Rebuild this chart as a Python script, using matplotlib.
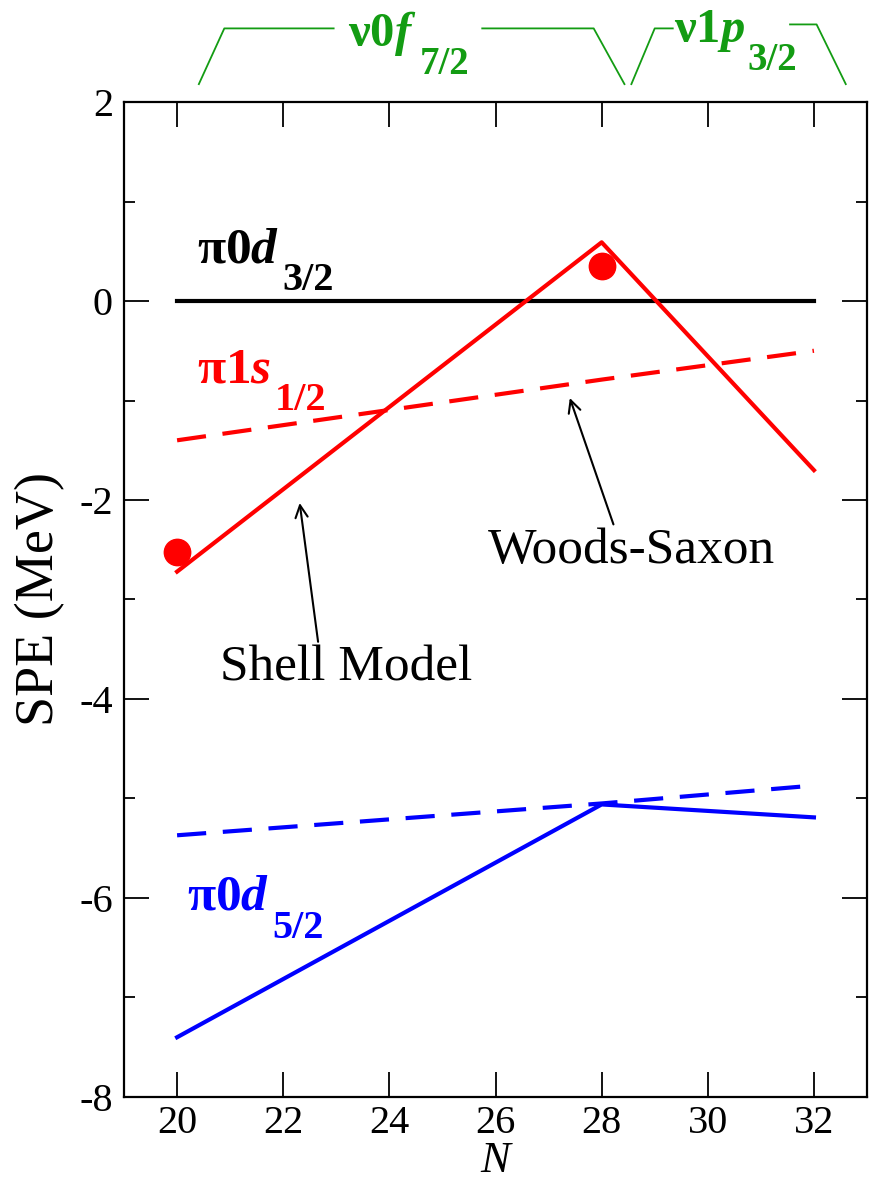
import matplotlib
matplotlib.use('Agg')
import matplotlib.pyplot as plt

# Данные: число нейтронов N и одночастичные энергии протонов (МэВ)
N = [20, 28, 32]

d32_shell = [0.0, 0.0, 0.0]
s12_shell = [-2.72, 0.59, -1.70]
s12_ws = [-1.40, -0.79, -0.50]
d52_shell = [-7.40, -5.06, -5.19]
d52_ws = [-5.37, -5.05, -4.87]

# Экспериментальные точки для pi 1s1/2
exp_N = [20, 28]
exp_s12 = [-2.52, 0.35]

# Подписи уровней нейтронов над графиком
nu_labels = [r'$\mathbf{\nu0}\mathbfit{f}$', r'$\mathbf{\nu1}\mathbfit{p}$']
nu_subs = ['7/2', '3/2']

plt.rcParams['font.family'] = 'serif'
plt.rcParams['font.serif'] = ['Liberation Serif', 'DejaVu Serif']
plt.rcParams['axes.unicode_minus'] = False
plt.rcParams['mathtext.fontset'] = 'custom'
plt.rcParams['mathtext.rm'] = 'Liberation Serif'
plt.rcParams['mathtext.bf'] = 'Liberation Serif:bold'
plt.rcParams['mathtext.bfit'] = 'Liberation Serif:bold:italic'
plt.rcParams['mathtext.it'] = 'Liberation Serif:italic'

fig = plt.figure(figsize=(8.77, 11.85), dpi=100)
ax = fig.add_axes([0.1414, 0.0743, 0.8472, 0.8396])

lw = 3.0
dash = (7, 4)
ax.plot(N, d32_shell, color='black', lw=lw)
ax.plot(N, s12_shell, color='red', lw=lw)
ax.plot(N, s12_ws, color='red', lw=lw, ls=(0, dash))
ax.plot(N, d52_shell, color='blue', lw=lw)
ax.plot(N, d52_ws, color='blue', lw=lw, ls=(0, dash))
ax.plot(exp_N, exp_s12, 'o', color='red', ms=19)

ax.set_xlim(19, 33)
ax.set_ylim(-8, 2)
ax.set_xticks(range(20, 33, 2))
ax.set_yticks(range(-8, 3, 2))
ax.set_yticks(range(-7, 2, 2), minor=True)
ax.tick_params(which='both', direction='in', top=True, right=True, width=1.3,
               labelsize=29, pad=8)
ax.tick_params(axis='x', which='major', pad=6)
ax.tick_params(which='major', length=18)
ax.tick_params(which='minor', length=8)
for sp in ax.spines.values():
    sp.set_linewidth(1.6)

ax.set_xlabel('N', fontsize=32, style='italic', labelpad=-1)
ax.set_ylabel('SPE (MeV)', fontsize=39, labelpad=10)


def level_label(x, y, main, sub, color, size=37, subsize=29, dx=2, dy=-12):
    t = ax.text(x, y, main, color=color, fontsize=size, va='baseline', ha='left',
                clip_on=False)
    ax.annotate(sub, xy=(1, 0), xycoords=t, xytext=(dx, dy), textcoords='offset points',
                color=color, fontsize=subsize, fontweight='bold', va='baseline',
                ha='left', annotation_clip=False)
    return t


level_label(20.38, 0.39, r'$\mathbf{\pi0}\mathbfit{d}$', '3/2', 'black')
level_label(20.38, -0.82, r'$\mathbf{\pi1}\mathbfit{s}$', '1/2', 'red')
level_label(20.19, -6.12, r'$\mathbf{\pi0}\mathbfit{d}$', '5/2', 'blue')

# Подписи моделей со стрелками
ax.annotate('Shell Model', xy=(22.31, -2.03), xytext=(20.81, -3.81), fontsize=37,
            arrowprops=dict(arrowstyle='->', color='black', lw=1.5,
                            mutation_scale=22, shrinkA=0, shrinkB=0,
                            relpos=(0.39, 1.0)), va='baseline')
ax.annotate('Woods-Saxon', xy=(27.40, -0.975), xytext=(25.86, -2.63), fontsize=37,
            arrowprops=dict(arrowstyle='->', color='black', lw=1.5,
                            mutation_scale=22, shrinkA=0, shrinkB=0,
                            relpos=(0.44, 1.0)), va='baseline')

# Скобки с нейтронными орбиталями
green = '#139c13'
bracket_x = [[20.41, 20.89, 22.95], [25.75, 27.85, 28.43],
             [28.56, 29.00, 29.34], [31.55, 32.05, 32.60]]
bracket_y = [[2.18, 2.74, 2.74], [2.74, 2.74, 2.18],
             [2.18, 2.74, 2.74], [2.78, 2.78, 2.18]]
for bx, by in zip(bracket_x, bracket_y):
    ax.plot(bx, by, color=green, lw=1.3, clip_on=False)

level_label(23.23, 2.56, nu_labels[0], nu_subs[0], green, size=35, subsize=28, dy=-11)
level_label(29.36, 2.60, nu_labels[1], nu_subs[1], green, size=35, subsize=28, dy=-11)

plt.savefig('out.png', dpi=100)
